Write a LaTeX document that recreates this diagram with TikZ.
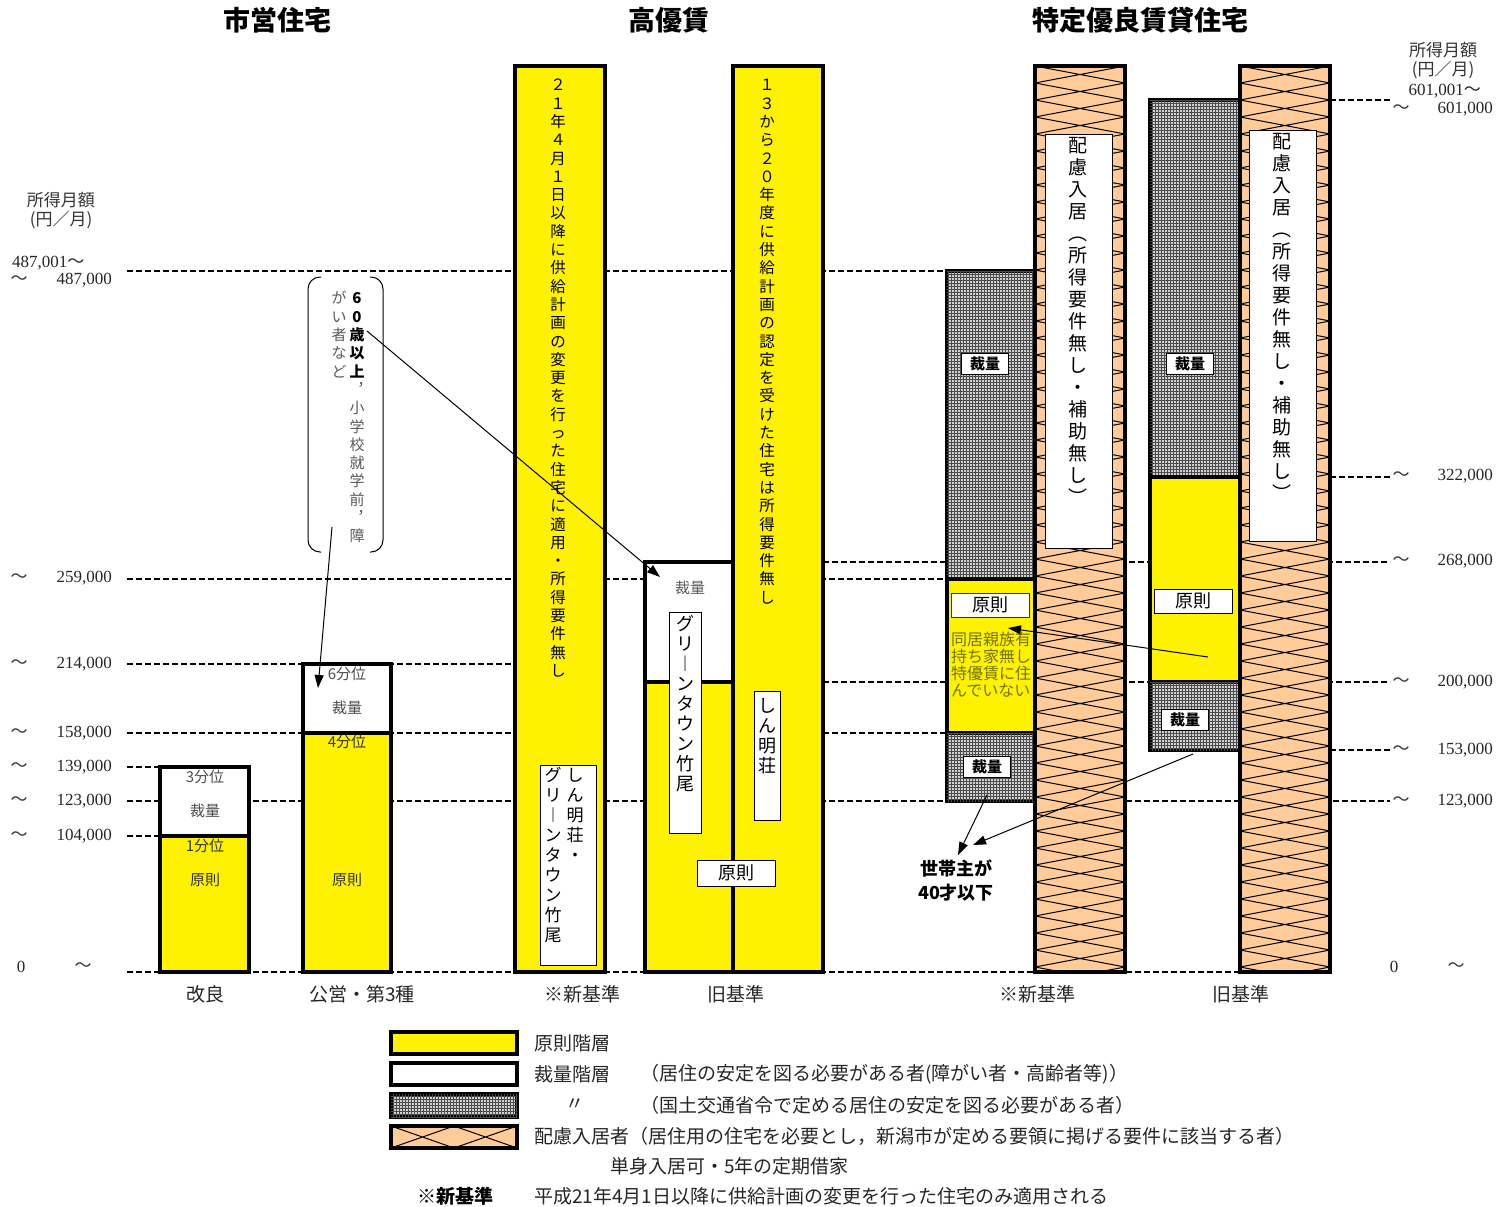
\documentclass[tikz,border=0pt]{standalone}
\usepackage{fontspec}
\setmainfont{Liberation Serif}
\newfontfamily\jp{Noto Sans CJK JP}
\usetikzlibrary{arrows.meta,patterns}

\definecolor{peach}{RGB}{255,204,153}
\definecolor{olivetxt}{RGB}{115,115,0}

% vertical (tategaki) text: one character per line
\makeatletter
\newcommand\tate[2]{\vbox{\baselineskip=#1\lineskiplimit=-100pt\lineskip=0pt\tate@#2\@nil}}
\def\tate@#1#2\@nil{\hbox to 1.2em{\hss\vrule width 0pt height .88em depth .12em\relax#1\hss}\ifx\relax#2\relax\else\tate@#2\@nil\fi}
\makeatother

\begin{document}
\begin{tikzpicture}[x=1pt,y=-1pt,
    guide/.style={dash pattern=on 6pt off 3pt, line width=1.4pt},
    bar/.style={line width=4pt},
    dots/.style={fill=black!18, postaction={pattern=grid, pattern color=black!70}},
    jtext/.style={font=\jp\fontsize{#1}{#1}\selectfont, inner sep=0pt},
    title/.style={font=\jp\bfseries\fontsize{27}{27}\selectfont, inner sep=0pt},
    num/.style={font=\fontsize{17}{17}\selectfont, inner sep=0pt, text=black!85},
    vt/.style={anchor=north, inner sep=0pt},
    tagbox/.style={draw, fill=white, line width=1pt, inner sep=0pt},
    arr/.style={-{Triangle[length=13pt,width=9pt]}, line width=1pt}]
    \useasboundingbox (0,0) rectangle (1499,1207);

    % Titles
    \node[title] (tShiei) at (277,20) {市営住宅};
    \node[title] (tKoyu) at (669,20) {高優賃};
    \node[title] (tTokuyu) at (1140,20) {特定優良賃貸住宅};

    % Income levels (dashed guides)
    \draw[guide] (127,271) -- (947,271);
    \draw[guide] (127,579) -- (947,579);
    \draw[guide] (127,664) -- (515,664);
    \draw[guide] (127,733) -- (515,733) (823,733) -- (947,733);
    \draw[guide] (127,767) -- (160,767);
    \draw[guide] (127,801) -- (1390,801);
    \draw[guide] (127,836) -- (160,836);
    \draw[guide] (127,972) -- (1330,972);
    \draw[guide] (823,562) -- (1390,562);
    \draw[guide] (823,682) -- (1390,682);
    \draw[guide] (1330,100) -- (1390,100);
    \draw[guide] (1330,477) -- (1390,477);
    \draw[guide] (1330,750) -- (1390,750);

    % Left axis
    \node[jtext=17, text=black!80] (lHead) at (61,200) {所得月額};
    \node[jtext=17, text=black!80] (lUnit) at (61,220) {(円／月)};
    \node[num, anchor=west] (lTop) at (12,263) {487,001\jp～};
    \foreach \yy/\val in {280/{487,000},578/{259,000},664/{214,000},733/{158,000},767/{139,000},801/{123,000},836/{104,000}} {
        \node[jtext=17, text=black!80] (lt\yy) at (19,\yy) {～};
        \node[num, anchor=east] (lv\yy) at (112,\yy) {\val};
    }
    \node[num] (lZero) at (21,967) {0};
    \node[jtext=17, text=black!80] (ltZero) at (83,967) {～};

    % Right axis
    \node[jtext=17, text=black!80] (rHead) at (1443,50) {所得月額};
    \node[jtext=17, text=black!80] (rUnit) at (1443,70) {(円／月)};
    \node[num, anchor=east] (rTop) at (1481,91) {601,001\jp～};
    \foreach \yy/\val in {109/{601,000},476/{322,000},561/{268,000},682/{200,000},750/{153,000},801/{123,000}} {
        \node[jtext=17, text=black!80] (rt\yy) at (1401,\yy) {～};
        \node[num, anchor=east] (rv\yy) at (1493,\yy) {\val};
    }
    \node[num] (rZero) at (1394,967) {0};
    \node[jtext=17, text=black!80] (rtZero) at (1456,967) {～};

    % 市営住宅 bars
    \filldraw[bar, fill=yellow] (160,836) rectangle (249,972);
    \filldraw[bar, fill=white] (160,767) rectangle (249,836);
    \filldraw[bar, fill=yellow] (303,733) rectangle (391,972);
    \filldraw[bar, fill=white] (303,664) rectangle (391,733);
    \node[jtext=15, text=black!70] (kai3) at (205,777) {3分位};
    \node[jtext=15, text=black!70] (kaiSai) at (205,811) {裁量};
    \node[jtext=15, text=black!80] (kai1) at (205,846) {1分位};
    \node[jtext=15, text=black!80] (kaiGen) at (205,880) {原則};
    \node[jtext=15, text=black!70] (ko6) at (347,674) {6分位};
    \node[jtext=15, text=black!70] (koSai) at (347,708) {裁量};
    \node[jtext=15, text=black!80] (ko4) at (347,742) {4分位};
    \node[jtext=15, text=black!80] (koGen) at (347,880) {原則};

    % Callout
    \draw[line width=1pt, rounded corners=12pt] (321,277) -- (308,277) -- (308,552) -- (321,552);
    \draw[line width=1pt, rounded corners=12pt] (370,277) -- (383,277) -- (383,552) -- (370,552);
    \node[vt, jtext=15, anchor=north, text=black!65] (callA) at (357,290.5)
        {\tate{18.3pt}{{\bfseries\color{black}6}{\bfseries\color{black}0}{\bfseries\color{black}歳}{\bfseries\color{black}以}{\bfseries\color{black}上}︐小学校就学前︐障}};
    \node[vt, jtext=15, anchor=north, text=black!65] (callB) at (339,290.5) {\tate{18.3pt}{がい者など}};

    % 高優賃 bars
    \filldraw[bar, fill=yellow] (515,66) rectangle (605,972);
    \filldraw[bar, fill=yellow] (645,682) rectangle (733,972);
    \filldraw[bar, fill=white] (645,562) rectangle (733,682);
    \filldraw[bar, fill=yellow] (733,66) rectangle (823,972);
    \node[vt, jtext=15.5] (vNew) at (558,77) {\tate{18.3pt}{２１年４月１日以降に供給計画の変更を行った住宅に適用・所得要件無し}};
    \node[vt, jtext=15.5] (vOld) at (767,77) {\tate{18.3pt}{１３から２０年度に供給計画の認定を受けた住宅は所得要件無し}};
    \draw[line width=1pt, fill=white] (540,765) rectangle (596,965);
    \node[vt, jtext=17] (nShin) at (575,766.5) {\tate{20pt}{しん明荘・}};
    \node[vt, jtext=17] (nGreen) at (553,766.5) {\tate{20pt}{グリ︱ンタウン竹尾}};
    \node[jtext=15, text=black!65] (oSai) at (690,588) {裁量};
    \draw[line width=1pt, fill=white] (669,612) rectangle (701,833);
    \node[vt, jtext=18] (oGreen) at (685,614) {\tate{20pt}{グリ︱ンタウン竹尾}};
    \draw[line width=1pt, fill=white] (754,691) rectangle (780,820);
    \node[vt, jtext=18] (oShin) at (767,696) {\tate{20pt}{しん明荘}};
    \node[tagbox, jtext=18, minimum width=78, minimum height=26] (oGen) at (736,873) {原則};

    % 特定優良賃貸住宅: left bars
    \filldraw[bar, dots] (947,271) rectangle (1035,579);
    \filldraw[bar, fill=yellow] (947,579) rectangle (1035,733);
    \filldraw[bar, dots] (947,733) rectangle (1035,801);
    \filldraw[bar, dots] (1150,100) rectangle (1240,477);
    \filldraw[bar, fill=yellow] (1150,477) rectangle (1240,682);
    \filldraw[bar, dots] (1150,682) rectangle (1240,750);

    % 特定優良賃貸住宅: hatched bars
    \foreach \xa in {1035,1240} {
        \fill[peach] (\xa,66) rectangle (\xa+90,972);
        \begin{scope}
            \clip (\xa,66) rectangle (\xa+90,972);
            \foreach \k in {0,...,53}
                \draw[line width=1pt] (\xa,66+17*\k) -- (\xa+90,83+17*\k) (\xa,83+17*\k) -- (\xa+90,66+17*\k);
        \end{scope}
    }
    \draw[line width=1pt, fill=white] (1045,134) rectangle (1112,548);
    \draw[line width=1pt, fill=white] (1249,130) rectangle (1316,541);
    \node[vt, jtext=19] (hNew) at (1078,135.5) {\tate{22pt}{配慮入居︵所得要件無し・補助無し︶}};
    \node[vt, jtext=19] (hOld) at (1282,131.5) {\tate{22pt}{配慮入居︵所得要件無し・補助無し︶}};
    \draw[bar] (1035,66) rectangle (1125,972);
    \draw[bar] (1240,66) rectangle (1330,972);

    % 特定優良賃貸住宅: labels
    \node[tagbox, jtext=15, font=\jp\bfseries\fontsize{15}{15}\selectfont, minimum width=47, minimum height=21] (tSaiA) at (985,364) {裁量};
    \node[tagbox, jtext=15, font=\jp\bfseries\fontsize{15}{15}\selectfont, minimum width=47, minimum height=21] (tSaiB) at (1190,364) {裁量};
    \node[tagbox, jtext=15, font=\jp\bfseries\fontsize{15}{15}\selectfont, minimum width=47, minimum height=21] (tSaiC) at (987,767) {裁量};
    \node[tagbox, jtext=15, font=\jp\bfseries\fontsize{15}{15}\selectfont, minimum width=47, minimum height=21] (tSaiD) at (1185,720) {裁量};
    \node[tagbox, jtext=18, draw=black!80, minimum width=78, minimum height=24] (tGenA) at (990,605) {原則};
    \node[tagbox, jtext=18, minimum width=78, minimum height=24] (tGenB) at (1193,601) {原則};
    \node[jtext=16, text=olivetxt, anchor=north west, align=left, font=\jp\fontsize{16}{17}\selectfont] (tCond) at (951,632)
        {同居親族有\\持ち家無し\\特優賃に住\\んでいない};
    \node[jtext=18, align=center, font=\jp\bfseries\fontsize{18}{24}\selectfont] (tSetai) at (956,880) {世帯主が\\40才以下};

    % Arrows
    \coordinate (a60) at (367,331);
    \coordinate (aSai) at (660,577);
    \coordinate (aCall) at (332,527);
    \coordinate (a6bun) at (318,688);
    \coordinate (aOldGen) at (1208,657);
    \coordinate (aCond) at (1008,628);
    \coordinate (aSaiC) at (987,795);
    \coordinate (aSetaiA) at (958,855);
    \coordinate (aSaiD) at (1193,754);
    \coordinate (aSetaiB) at (973,845);
    \draw[arr] (a60) -- (aSai);
    \draw[arr] (aCall) -- (a6bun);
    \draw[arr] (aOldGen) -- (aCond);
    \draw[arr] (aSaiC) -- (aSetaiA);
    \draw[arr] (aSaiD) -- (aSetaiB);

    % Category labels
    \node[jtext=19, text=black!85] (cKai) at (205,994) {改良};
    \node[jtext=19, text=black!85] (cKo) at (362,994) {公営・第3種};
    \node[jtext=19, text=black!85] (cNewA) at (582,994) {※新基準};
    \node[jtext=19, text=black!85] (cOldA) at (736,994) {旧基準};
    \node[jtext=19, text=black!85] (cNewB) at (1037,994) {※新基準};
    \node[jtext=19, text=black!85] (cOldB) at (1241,994) {旧基準};

    % Legend
    \filldraw[bar, fill=yellow] (391,1032) rectangle (517,1054);
    \filldraw[bar, fill=white] (391,1063) rectangle (517,1085);
    \filldraw[bar, dots] (391,1094) rectangle (517,1117);
    \fill[peach] (391,1126) rectangle (517,1148);
    \begin{scope}
        \clip (391,1126) rectangle (517,1148);
        \draw[line width=1pt] (391,1126) -- (454,1148) -- (517,1126) (391,1148) -- (454,1126) -- (517,1148);
    \end{scope}
    \draw[bar] (391,1126) rectangle (517,1148);
    \node[jtext=19, text=black!85, anchor=west] (gGen) at (534,1043) {原則階層};
    \node[jtext=19, text=black!85, anchor=west] (gSai) at (534,1074) {裁量階層};
    \node[jtext=19, text=black!85, anchor=west] (gSaiNote) at (640,1074) {（居住の安定を図る必要がある者(障がい者・高齢者等)）};
    \node[jtext=19, text=black!85] (gDitto) at (575,1105) {〃};
    \node[jtext=19, text=black!85, anchor=west] (gDotNote) at (640,1105) {（国土交通省令で定める居住の安定を図る必要がある者）};
    \node[jtext=19, text=black!85, anchor=west] (gHai) at (534,1136) {配慮入居者（居住用の住宅を必要とし，新潟市が定める要領に掲げる要件に該当する者）};
    \node[jtext=19, text=black!85, anchor=west] (gTanshin) at (610,1166) {単身入居可・5年の定期借家};
    \node[jtext=19, font=\jp\bfseries\fontsize{19}{19}\selectfont] (gNew) at (455,1196) {※新基準};
    \node[jtext=19, text=black!85, anchor=west] (gNewNote) at (534,1196) {平成21年4月1日以降に供給計画の変更を行った住宅のみ適用される};
\end{tikzpicture}
\end{document}
